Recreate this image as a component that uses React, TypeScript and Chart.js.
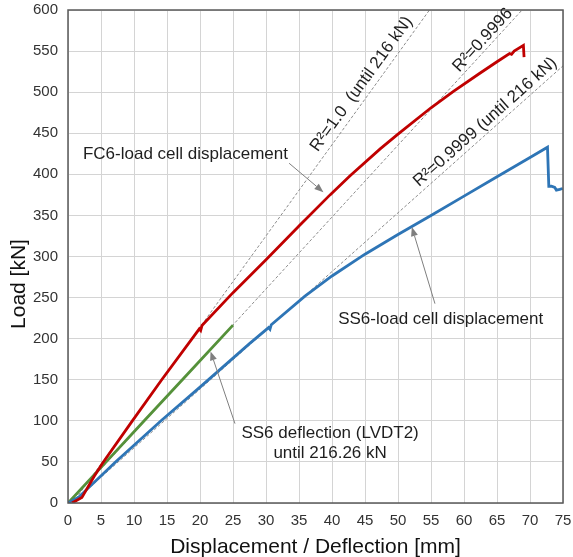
import { useEffect, useRef } from "react";
import { Chart, registerables } from "chart.js";

Chart.register(...registerables);

// ---- data ----
const fc6X = [0.6, 2.1, 3.9, 5.2, 9.75, 14.2, 19.9, 20.1, 20.3, 25, 30, 35, 39.7, 42.7, 47.3, 50, 55, 58.4, 62.4, 65, 66.9, 67.2, 67.6, 69.0, 69.1];
const fc6Y = [0, 6.6, 31.7, 48, 100, 150, 212, 210, 216, 256, 296, 337, 375, 398, 431, 449, 481, 501, 523, 537, 547, 546, 550, 557, 542.6];

const ss6X = [0, 1.65, 7.2, 14.1, 20, 27.5, 30.4, 30.6, 30.8, 35.9, 40, 45, 50, 55, 60, 65, 70, 72.65, 72.85, 73.25, 73.75, 74.0, 74.5, 74.96];
const ss6Y = [0, 7.4, 50, 100, 141, 194, 213.5, 211.5, 217, 251.7, 276.3, 302.8, 326.8, 350, 373.5, 397, 420.5, 433, 385.5, 385.5, 384, 380.8, 381.6, 382.8];

const lvdtX = [0, 5.5, 11.3, 17.5, 25];
const lvdtY = [0, 47.6, 97.9, 151.6, 216.5];

// linear fits (end points)
const fitFcX = [0.72, 54.77];
const fitFcY = [0, 600];
const fitLvX = [0.23, 68.8];
const fitLvY = [0, 600];
const fitSsX = [0.62, 75];
const fitSsY = [0, 532];

const xMin = 0, xMax = 75, xStep = 5;
const yMin = 0, yMax = 600, yStep = 50;

const xTitle = "Displacement / Deflection [mm]";
const yTitle = "Load [kN]";

const toPts = (xs: number[], ys: number[]) => xs.map((x, i) => ({ x, y: ys[i] }));

const FONT = "'Liberation Sans', Arial, Helvetica, sans-serif";

// annotation texts (data coords)
const textNotes = [
  { text: "FC6-load cell displacement", x: 17.8, y: 423.8 },
  { text: "SS6-load cell displacement", x: 56.47, y: 223.1 },
  { text: "SS6 deflection (LVDT2)", x: 39.71, y: 84.4 },
  { text: "until 216.26 kN", x: 39.71, y: 60.8 },
];
const arrowNotes = [
  { x1: 33.5, y1: 413.5, x2: 38.7, y2: 378.3 },
  { x1: 55.6, y1: 242.6, x2: 52.1, y2: 335.8 },
  { x1: 25.3, y1: 96.6, x2: 21.6, y2: 184.5 },
];
const lineNotes = [
  { text: "R\u00B2=1.0  (until 216 kN)", lx: fitFcX, ly: fitFcY, at: 45.9, gap: 7 },
  { text: "R\u00B2=0.9996", lx: fitLvX, ly: fitLvY, at: 63.8, gap: 4 },
  { text: "R\u00B2=0.9999 (until 216 kN)", lx: fitSsX, ly: fitSsY, at: 64.2, gap: 5 },
];

const notesPlugin = {
  id: "notes",
  afterDatasetsDraw(chart: any) {
    const { ctx, chartArea, scales } = chart;
    const xs = scales.x, ys = scales.y;
    ctx.save();
    // plot border
    ctx.strokeStyle = "#595959";
    ctx.lineWidth = 1.5;
    ctx.strokeRect(chartArea.left, chartArea.top, chartArea.right - chartArea.left, chartArea.bottom - chartArea.top);

    // arrows
    ctx.strokeStyle = "#7f7f7f";
    ctx.fillStyle = "#7f7f7f";
    ctx.lineWidth = 1;
    for (const a of arrowNotes) {
      const px1 = xs.getPixelForValue(a.x1), py1 = ys.getPixelForValue(a.y1);
      const px2 = xs.getPixelForValue(a.x2), py2 = ys.getPixelForValue(a.y2);
      const ang = Math.atan2(py2 - py1, px2 - px1);
      const hl = 9, hw = 3.5;
      const bx = px2 - hl * Math.cos(ang), by = py2 - hl * Math.sin(ang);
      ctx.beginPath();
      ctx.moveTo(px1, py1);
      ctx.lineTo(bx, by);
      ctx.stroke();
      ctx.beginPath();
      ctx.moveTo(px2, py2);
      ctx.lineTo(bx + hw * Math.sin(ang), by - hw * Math.cos(ang));
      ctx.lineTo(bx - hw * Math.sin(ang), by + hw * Math.cos(ang));
      ctx.closePath();
      ctx.fill();
    }

    // horizontal texts
    ctx.fillStyle = "#1e1e1e";
    ctx.font = `17px ${FONT}`;
    ctx.textAlign = "center";
    ctx.textBaseline = "middle";
    for (const t of textNotes) {
      ctx.fillText(t.text, xs.getPixelForValue(t.x), ys.getPixelForValue(t.y));
    }

    // rotated texts along fit lines
    ctx.textBaseline = "alphabetic";
    for (const l of lineNotes) {
      const p0x = xs.getPixelForValue(l.lx[0]), p0y = ys.getPixelForValue(l.ly[0]);
      const p1x = xs.getPixelForValue(l.lx[1]), p1y = ys.getPixelForValue(l.ly[1]);
      const ang = Math.atan2(p1y - p0y, p1x - p0x);
      const slope = (l.ly[1] - l.ly[0]) / (l.lx[1] - l.lx[0]);
      const ay = l.ly[0] + slope * (l.at - l.lx[0]);
      const ax = xs.getPixelForValue(l.at), apy = ys.getPixelForValue(ay);
      ctx.save();
      ctx.translate(ax, apy);
      ctx.rotate(ang);
      ctx.fillText(l.text, 0, -l.gap);
      ctx.restore();
    }

    // y title (drawn manually)
    ctx.save();
    ctx.fillStyle = "#111";
    ctx.font = `21px ${FONT}`;
    ctx.textAlign = "center";
    ctx.textBaseline = "middle";
    ctx.translate(19, 284);
    ctx.rotate(-Math.PI / 2);
    ctx.fillText(yTitle, 0, 0);
    ctx.restore();

    ctx.restore();
  },
};

export default function App() {
  const ref = useRef<HTMLCanvasElement>(null);
  useEffect(() => {
    const dataLine = (pts: any, color: string) => ({
      data: pts,
      showLine: true,
      borderColor: color,
      backgroundColor: color,
      borderWidth: 2.8,
      pointRadius: 0,
      tension: 0,
      fill: false,
    });
    const fitLine = (pts: any) => ({
      data: pts,
      showLine: true,
      borderColor: "#8c8c8c",
      borderWidth: 1,
      borderDash: [3, 2],
      pointRadius: 0,
      fill: false,
    });
    const chart = new Chart(ref.current!, {
      type: "scatter",
      data: {
        datasets: [
          { ...dataLine(toPts(fc6X, fc6Y), "#C00000"), order: 0 },
          { ...dataLine(toPts(ss6X, ss6Y), "#2E75B6"), order: 1 },
          { ...dataLine(toPts(lvdtX, lvdtY), "#55913A"), order: 2 },
          { ...fitLine(toPts(fitFcX, fitFcY)), order: 5 },
          { ...fitLine(toPts(fitLvX, fitLvY)), order: 6 },
          { ...fitLine(toPts(fitSsX, fitSsY)), order: 7 },
        ] as any,
      },
      options: {
        animation: false,
        responsive: false,
        devicePixelRatio: 1,
        layout: { padding: { top: 10, right: 10, left: 0, bottom: 0 } },
        plugins: { legend: { display: false }, tooltip: { enabled: false } },
        scales: {
          x: {
            type: "linear",
            min: xMin,
            max: xMax,
            ticks: { stepSize: xStep, color: "#333", font: { size: 15, family: FONT }, padding: 9, maxRotation: 0 },
            grid: { color: "#d4d4d4", lineWidth: 1, drawTicks: false },
            border: { display: false },
            title: { display: true, text: xTitle, color: "#111", font: { size: 21, family: FONT }, padding: { top: 0, bottom: -3 } },
            afterFit: (s: any) => { s.height = 54; s.paddingLeft = 0; s.paddingRight = 0; },
          },
          y: {
            type: "linear",
            min: yMin,
            max: yMax,
            ticks: { stepSize: yStep, color: "#333", font: { size: 15, family: FONT }, padding: 10 },
            grid: { color: "#d4d4d4", lineWidth: 1, drawTicks: false },
            border: { display: false },
            afterFit: (s: any) => { s.width = 68; s.paddingTop = 0; s.paddingBottom = 0; },
          },
        },
      } as any,
      plugins: [notesPlugin],
    });
    return () => chart.destroy();
  }, []);
  return (
    <div style={{ position: "fixed", left: 0, top: 0, width: 573, height: 557, background: "#fff" }}>
      <canvas ref={ref} width={573} height={557} style={{ display: "block", width: 573, height: 557 }} />
    </div>
  );
}
